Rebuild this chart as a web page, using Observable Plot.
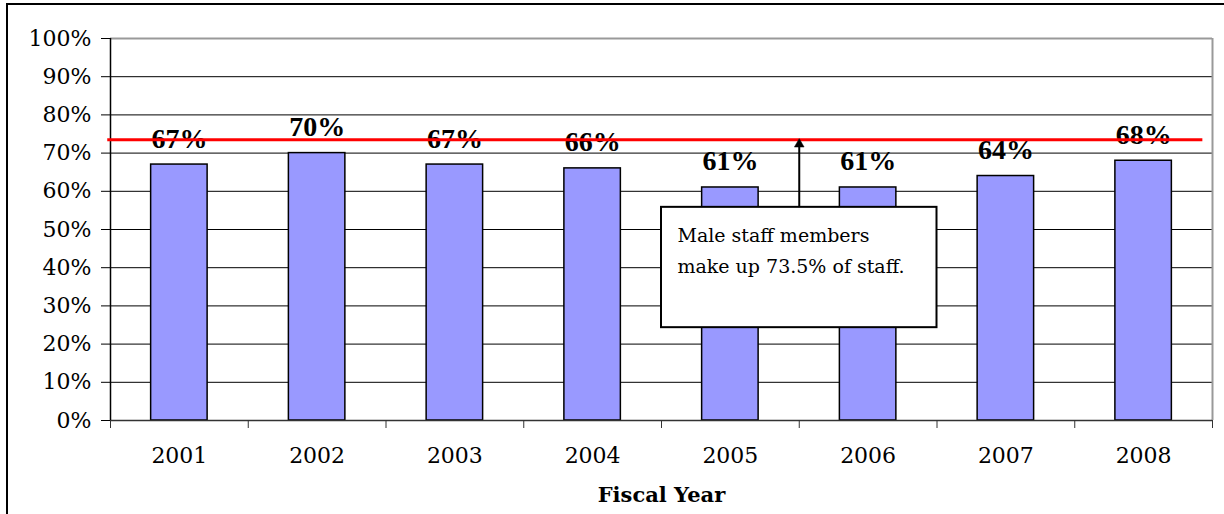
<!DOCTYPE html>
<html>
<head>
<meta charset="utf-8">
<script src="https://cdn.jsdelivr.net/npm/d3@7"></script>
<script src="https://cdn.jsdelivr.net/npm/@observablehq/plot@0.6"></script>
<style>
  html, body { margin: 0; padding: 0; background: #fff; }
  #wrap { position: relative; width: 1224px; height: 514px; overflow: hidden; }
  #frame { position: absolute; left: 6px; top: 3px; width: 1240px; height: 540px;
           border-left: 2px solid #000; border-top: 2px solid #000; box-sizing: border-box; }
  #chart { position: absolute; left: 0; top: 0; }
</style>
</head>
<body>
<div id="wrap"><div id="frame"></div><div id="chart"></div></div>
<script>
const years = ["2001", "2002", "2003", "2004", "2005", "2006", "2007", "2008"];
const shares = [67, 70, 67, 66, 61, 61, 64, 68];
const maleShare = [73.5];
const yTicks = [0, 10, 20, 30, 40, 50, 60, 70, 80, 90, 100];
const noteText = ["Male staff members\nmake up 73.5% of staff."];
const xTitle = ["Fiscal Year"];

const data = years.map((y, i) => ({year: y, i, share: shares[i]}));
const half = 0.205;
const boundaries = d3.range(0, years.length + 1);
const centers = years.map((_, i) => i + 0.5);

const chart = Plot.plot({
  width: 1224,
  height: 514,
  marginLeft: 110,
  marginRight: 12,
  marginTop: 38,
  marginBottom: 94,
  style: {fontFamily: "DejaVu Serif", fontSize: "22px", color: "#000", background: "transparent"},
  x: {domain: [0, years.length], axis: null},
  y: {domain: [0, 100], axis: null},
  marks: [
    Plot.gridY(yTicks.filter(d => d > 0 && d < 100), {stroke: "#000", strokeOpacity: 1, strokeWidth: 1}),
    Plot.ruleY([100], {stroke: "#999", strokeWidth: 2}),
    Plot.ruleX([years.length], {stroke: "#999", strokeWidth: 2}),
    Plot.rectY(data, {x1: d => d.i + 0.5 - half, x2: d => d.i + 0.5 + half, y1: 0, y2: "share",
      fill: "#9999ff", stroke: "#000", strokeWidth: 1.5}),
    Plot.ruleY([0], {stroke: "#333", strokeWidth: 1.5}),
    Plot.ruleX([0], {stroke: "#000", strokeWidth: 1.5}),
    Plot.axisY({ticks: yTicks, tickFormat: d => d + "%", tickSize: 9, tickPadding: 10, stroke: "#000", fill: "#000", fontSize: 22}),
    Plot.axisX({ticks: boundaries, tickSize: 8, tickFormat: () => "", stroke: "#333"}),
    Plot.axisX({ticks: centers, tickSize: 0, tickPadding: 27, tickFormat: d => years[Math.floor(d)], fill: "#000", fontSize: 22}),
    Plot.text(data, {x: d => d.i + 0.5, y: "share", text: d => d.share + "%", dy: -26,
      fontFamily: "Liberation Serif", fontWeight: "bold", fontSize: 28, fill: "#000"}),
    Plot.ruleY(maleShare, {x1: -0.02, x2: 7.93, stroke: "#ff0000", strokeWidth: 3}),
    Plot.link([{x: 5, y1: 55.8, y2: maleShare[0] - 1.6}], {x1: "x", x2: "x", y1: "y1", y2: "y2", stroke: "#000", strokeWidth: 2}),
    Plot.dot([{x: 5, y: maleShare[0]}], {x: "x", y: "y", symbol: "triangle", r: 3.6, dy: 4.5, fill: "#000", stroke: "#000", strokeWidth: 0.5}),
    Plot.rect([{x1: 4, x2: 6, y1: 24.3, y2: 55.8}], {x1: "x1", x2: "x2", y1: "y1", y2: "y2",
      fill: "#fff", stroke: "#000", strokeWidth: 2}),
    Plot.text(noteText, {x: 4.116, y: 52.4, text: d => d, textAnchor: "start", lineAnchor: "top",
      lineHeight: 1.62, fontSize: 19, fill: "#000"}),
    Plot.text(xTitle, {frameAnchor: "bottom", text: d => d, dy: 81, fontWeight: "bold", fontSize: 21, fill: "#000"})
  ]
});
document.getElementById("chart").appendChild(chart);
</script>
</body>
</html>
